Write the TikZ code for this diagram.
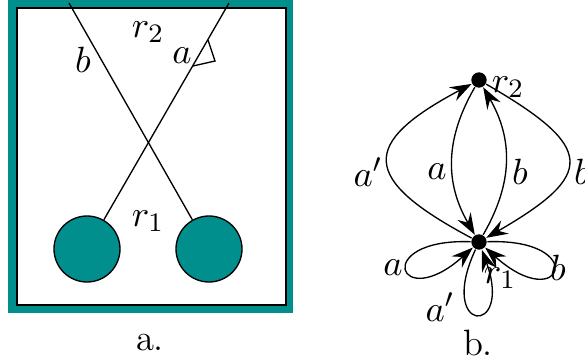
\documentclass[tikz,border=0pt]{standalone}
\usetikzlibrary{arrows.meta}
\definecolor{tealbox}{RGB}{0,143,140}
\begin{document}
\begin{tikzpicture}[x=0.3pt,y=0.3pt,
  every node/.style={font=\fontsize{11}{13}\selectfont},
  ball/.style={circle,draw=black,fill=tealbox,minimum size=19.8pt,inner sep=0pt,line width=0.4pt},
  vtx/.style={circle,fill=black,minimum size=4.6pt,inner sep=0pt},
  lbl/.style={inner sep=0pt},
  arc/.style={-{Stealth[length=6.5pt,width=4.6pt,inset=2.3pt]},line width=0.4pt}]
\useasboundingbox (0,0) rectangle (585,361);
% ---- panel a ----
\fill[tealbox] (8,48) rectangle (293,365);
\draw[fill=white,line width=0.4pt] (17,56) rectangle (286,353);
\node[ball] (c1) at (87,112) {};
\node[ball] (c2) at (209,112) {};
\coordinate (ta) at (229,358);
\coordinate (tb) at (69,358);
\draw (ta) -- (c1);
\draw (tb) -- (c2);
\coordinate (m1) at (208,321);
\coordinate (m2) at (215,300);
\coordinate (m3) at (193,295);
\draw (m1) -- (m2) -- (m3);
\node[lbl] (lr2) at (148,329) {$r_2$};
\node[lbl] (lb) at (83,301) {$b$};
\node[lbl] (la) at (182,305) {$a$};
\node[lbl] (lr1) at (148,140) {$r_1$};
\node[lbl] (capa) at (150,18) {a.};
% ---- panel b ----
\node[vtx] (r2) at (479,281) {};
\node[vtx] (r1) at (479,119) {};
\draw[arc] (r1) to[out=152,in=208,distance=38pt] (r2);
\draw[arc] (r2) to[out=-30,in=30,distance=38pt] (r1);
\draw[arc] (r2) to[out=240,in=120,distance=18pt] (r1);
\draw[arc] (r1) to[out=60,in=300,distance=18pt] (r2);
\draw[arc] (r1) to[out=178,in=222,distance=30pt] (r1);
\draw[arc] (r1) to[out=2,in=-42,distance=31pt] (r1);
\draw[arc] (r1) to[out=245,in=290,distance=28pt] (r1);
\node[lbl] (gr2) at (508,274) {$r_2$};
\node[lbl] (gap) at (368,189) {$a'$};
\node[lbl] (ga) at (437,189) {$a$};
\node[lbl] (gb) at (520,189) {$b$};
\node[lbl] (gbo) at (582,189) {$b$};
\node[lbl] (gla) at (393,93) {$a$};
\node[lbl] (glb) at (558,93) {$b$};
\node[lbl] (gr1) at (500,83) {$r_1$};
\node[lbl] (glap) at (440,54) {$a'$};
\node[lbl] (capb) at (478,18) {b.};
\end{tikzpicture}
\end{document}
